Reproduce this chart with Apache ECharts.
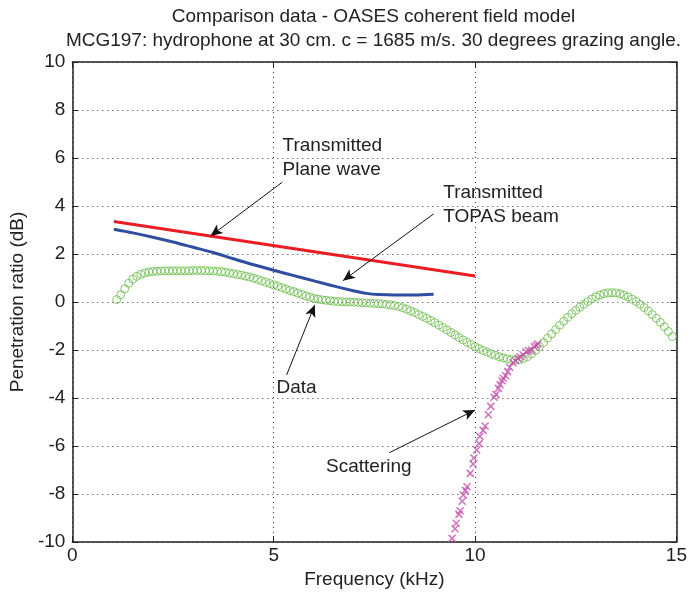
<!DOCTYPE html>
<html><head><meta charset="utf-8">
<script src="https://cdn.jsdelivr.net/npm/echarts@6/dist/echarts.min.js"></script>
<style>html,body{margin:0;padding:0;background:#fff}#c{width:690px;height:595px}</style>
</head><body><div id="c"></div>
<script>
// ---- Data ----
const titleLines = ['Comparison data - OASES coherent field model',
  'MCG197: hydrophone at 30 cm. c = 1685 m/s. 30 degrees grazing angle.'];
const xName = 'Frequency (kHz)';
const yName = 'Penetration ratio (dB)';
const xTicks = [0, 5, 10, 15];
const yTicks = [-10, -8, -6, -4, -2, 0, 2, 4, 6, 8, 10];

const dataFreq = [1.1,1.2,1.3,1.4,1.5,1.6,1.7,1.8,1.9,2.0,2.1,2.2,2.3,2.4,2.5,2.6,2.7,2.8,2.9,3.0,
 3.1,3.2,3.3,3.4,3.5,3.6,3.7,3.8,3.9,4.0,4.1,4.2,4.3,4.4,4.5,4.6,4.7,4.8,4.9,5.0,
 5.1,5.2,5.3,5.4,5.5,5.6,5.7,5.8,5.9,6.0,6.1,6.2,6.3,6.4,6.5,6.6,6.7,6.8,6.9,7.0,
 7.1,7.2,7.3,7.4,7.5,7.6,7.7,7.8,7.9,8.0,8.1,8.2,8.3,8.4,8.5,8.6,8.7,8.8,8.9,9.0,
 9.1,9.2,9.3,9.4,9.5,9.6,9.7,9.8,9.9,10.0,10.1,10.2,10.3,10.4,10.5,10.6,10.7,10.8,10.9,11.0,
 11.1,11.2,11.3,11.4,11.5,11.6,11.7,11.8,11.9,12.0,12.1,12.2,12.3,12.4,12.5,12.6,12.7,12.8,12.9,13.0,
 13.1,13.2,13.3,13.4,13.5,13.6,13.7,13.8,13.9,14.0,14.1,14.2,14.3,14.4,14.5,14.6,14.7,14.8,14.9];
const dataDB = [0.10,0.30,0.55,0.78,0.95,1.07,1.15,1.21,1.25,1.27,1.28,1.29,1.30,1.30,1.30,1.30,1.30,1.30,1.30,1.31,
 1.31,1.31,1.31,1.30,1.29,1.28,1.26,1.24,1.21,1.18,1.15,1.12,1.08,1.04,0.99,0.94,0.88,0.83,0.77,0.71,
 0.66,0.60,0.54,0.48,0.43,0.37,0.31,0.25,0.20,0.15,0.12,0.09,0.07,0.05,0.03,0.02,0.01,0.00,0.00,-0.01,
 -0.02,-0.03,-0.04,-0.05,-0.06,-0.07,-0.08,-0.10,-0.12,-0.15,-0.19,-0.24,-0.30,-0.37,-0.44,-0.52,-0.60,-0.68,-0.77,-0.86,
 -0.96,-1.06,-1.16,-1.27,-1.37,-1.48,-1.58,-1.68,-1.77,-1.86,-1.94,-2.02,-2.09,-2.16,-2.22,-2.28,-2.33,-2.37,-2.40,-2.41,
 -2.40,-2.36,-2.28,-2.16,-2.02,-1.86,-1.69,-1.51,-1.33,-1.15,-0.97,-0.80,-0.64,-0.49,-0.35,-0.22,-0.10,0.02,0.13,0.22,
 0.29,0.35,0.38,0.39,0.38,0.34,0.28,0.21,0.12,0.02,-0.10,-0.23,-0.37,-0.52,-0.68,-0.85,-1.03,-1.23,-1.44];

const planeFreq = [1.03, 10.0];
const planeDB = [3.35, 1.08];

const topasFreq = [1.03,1.5,2.0,2.5,3.0,3.5,4.0,4.5,5.0,5.5,6.0,6.5,7.0,7.3,7.6,8.0,8.5,8.97];
const topasDB = [3.03,2.88,2.70,2.50,2.28,2.06,1.80,1.55,1.32,1.10,0.88,0.66,0.46,0.36,0.31,0.29,0.29,0.32];

const scatFreq = [9.43,9.50,9.53,9.60,9.63,9.68,9.71,9.76,9.80,9.88,9.95,9.97,10.04,10.10,10.12,10.20,10.25,10.33,10.39,
 10.47,10.52,10.58,10.62,10.67,10.70,10.76,10.81,10.86,10.94,11.00,11.07,11.12,11.19,11.27,11.33,11.40,11.47,11.52,11.56];
const scatDB = [-9.85,-9.45,-9.22,-8.85,-8.70,-8.30,-8.04,-7.85,-7.70,-7.14,-6.75,-6.50,-6.17,-5.90,-5.60,-5.35,-5.17,-4.70,-4.35,
 -3.97,-3.85,-3.60,-3.45,-3.28,-3.18,-3.07,-2.90,-2.72,-2.53,-2.45,-2.35,-2.28,-2.20,-2.07,-2.02,-2.00,-1.86,-1.80,-1.75];

// annotations: text lines, text anchor, arrow tail, arrow head (data units)
const annoText = [['Transmitted','Plane wave'], ['Transmitted','TOPAS beam'], ['Data'], ['Scattering']];
const annoTextPos = [[5.22, 6.5], [9.21, 4.54], [5.07, -3.58], [6.3, -6.88]];
const annoTail = [[5.21, 4.99], [8.97, 3.67], [5.32, -3.04], [7.87, -6.28]];
const annoHead = [[3.43, 2.75], [6.72, 0.89], [6.02, -0.12], [10.0, -4.5]];

// ---- Chart ----
const FONT = "'Liberation Sans', Arial, sans-serif";
const FS = 19;
const TXT = '#222';
const chart = echarts.init(document.getElementById('c'), null, {renderer: 'canvas'});
const zip = (a, b) => a.map((v, i) => [v, b[i]]);

const gridL = 69, gridR = 12, gridT = 62, gridB = 53;
const axisCommon = {
  axisLine: {show: true, onZero: false, lineStyle: {color: '#222', width: 1.5}},
  axisTick: {show: true, inside: true, length: 6, lineStyle: {color: '#222', width: 1}},
};
const option = {
  backgroundColor: '#fff',
  animation: false,
  grid: {left: gridL, right: gridR, top: gridT, bottom: gridB, show: false},
  xAxis: [
    Object.assign({type: 'value', position: 'bottom', min: xTicks[0], max: xTicks[xTicks.length-1], interval: 5,
      name: xName, nameLocation: 'middle', nameGap: 28,
      nameTextStyle: {fontFamily: FONT, fontSize: FS, color: TXT},
      axisLabel: {fontFamily: FONT, fontSize: FS, color: TXT, margin: 4},
      splitLine: {show: true, lineStyle: {color: '#333', width: 1, type: [1, 4]}}}, axisCommon),
    Object.assign({type: 'value', position: 'top', min: xTicks[0], max: xTicks[xTicks.length-1], interval: 5,
      axisLabel: {show: false}, splitLine: {show: false}}, axisCommon)
  ],
  yAxis: [
    Object.assign({type: 'value', position: 'left', min: yTicks[0], max: yTicks[yTicks.length-1], interval: 2,
      name: yName, nameLocation: 'middle', nameGap: 29,
      nameTextStyle: {fontFamily: FONT, fontSize: FS, color: TXT},
      axisLabel: {fontFamily: FONT, fontSize: FS, color: TXT, margin: 7},
      splitLine: {show: true, lineStyle: {color: '#333', width: 1, type: [1, 4]}}}, axisCommon),
    Object.assign({type: 'value', position: 'right', min: yTicks[0], max: yTicks[yTicks.length-1], interval: 2,
      axisLabel: {show: false}, splitLine: {show: false}}, axisCommon)
  ],
  series: [
    {type: 'scatter', name: 'Data', data: zip(dataFreq, dataDB), symbol: 'circle', symbolSize: 8,
      itemStyle: {color: 'rgba(0,0,0,0)', borderColor: '#66bc46', borderWidth: 1}, silent: true},
    {type: 'line', name: 'Plane', data: zip(planeFreq, planeDB), showSymbol: false, symbol: 'none',
      lineStyle: {color: '#ec1c24', width: 3}, silent: true,
      markLine: {silent: true, animation: false, symbol: ['none', 'arrow'], symbolSize: [8, 12],
        label: {show: false}, lineStyle: {color: '#111', width: 1, type: 'solid'},
        data: annoTail.map((t, i) => [{coord: t}, {coord: annoHead[i]}])}},
    {type: 'line', name: 'TOPAS', data: zip(topasFreq, topasDB), showSymbol: false, symbol: 'none', smooth: 0.3,
      lineStyle: {color: '#2f4ea0', width: 3}, silent: true},
    {type: 'scatter', name: 'Scattering', data: zip(scatFreq, scatDB),
      symbol: 'path://M0,0L10,10M10,0L0,10', symbolSize: 7,
      itemStyle: {color: 'rgba(0,0,0,0)', borderColor: '#c450ad', borderWidth: 1.5}, silent: true}
  ]
};
chart.setOption(option);

// titles and annotation texts
const plotCenterX = gridL + (690 - gridL - gridR) / 2;
const graphics = [
  {type: 'text', x: plotCenterX, y: 17, style: {text: titleLines[0], x: 0, y: 0, textAlign: 'center', textVerticalAlign: 'middle', font: FS + 'px ' + FONT, fill: TXT}},
  {type: 'text', x: plotCenterX, y: 41, style: {text: titleLines[1], x: 0, y: 0, textAlign: 'center', textVerticalAlign: 'middle', font: FS + 'px ' + FONT, fill: TXT}}
];
annoText.forEach((lines, i) => {
  const p = chart.convertToPixel({gridIndex: 0}, annoTextPos[i]);
  lines.forEach((ln, j) => {
    graphics.push({type: 'text', x: p[0], y: p[1] + j * 23.5,
      style: {text: ln, x: 0, y: 0, textAlign: 'left', textVerticalAlign: 'middle', font: FS + 'px ' + FONT, fill: TXT}});
  });
});
chart.setOption({graphic: graphics});
</script>
</body></html>
